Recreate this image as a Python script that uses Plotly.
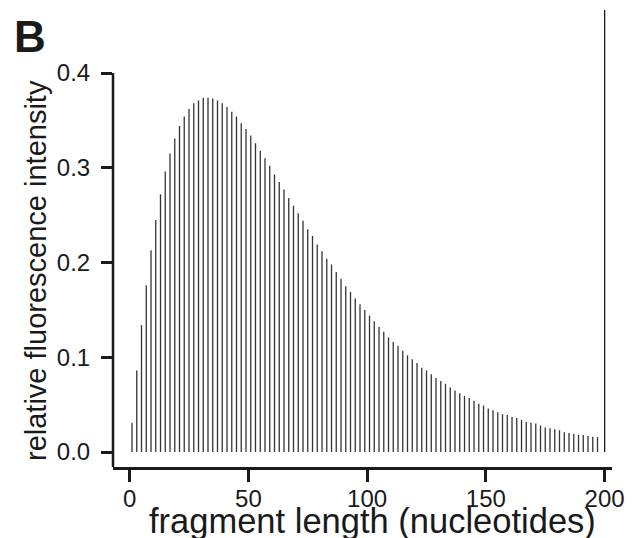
import plotly.graph_objects as go

# fragment lengths (nucleotides) and relative fluorescence intensity
lengths = list(range(1, 198, 2))
intensity = [
    0.031, 0.086, 0.134, 0.176, 0.213, 0.245, 0.272, 0.296, 0.315, 0.331,
    0.344, 0.354, 0.362, 0.368, 0.371, 0.374, 0.374, 0.373, 0.371, 0.368,
    0.364, 0.359, 0.354, 0.347, 0.341, 0.334, 0.326, 0.318, 0.310, 0.302,
    0.293, 0.285, 0.277, 0.268, 0.260, 0.252, 0.244, 0.235, 0.228, 0.219,
    0.212, 0.204, 0.198, 0.190, 0.183, 0.175, 0.169, 0.162, 0.156, 0.150,
    0.144, 0.138, 0.132, 0.127, 0.121, 0.116, 0.112, 0.107, 0.102, 0.098,
    0.094, 0.089, 0.086, 0.082, 0.078, 0.075, 0.072, 0.068, 0.065, 0.062,
    0.059, 0.057, 0.054, 0.051, 0.049, 0.046, 0.044, 0.042, 0.040, 0.039,
    0.037, 0.036, 0.034, 0.032, 0.031, 0.030, 0.028, 0.026, 0.025, 0.024,
    0.023, 0.021, 0.020, 0.019, 0.018, 0.018, 0.017, 0.016, 0.016,
]
# full-length product (off scale)
full_length = [200]
full_intensity = [0.50]

x_ticks = [0, 50, 100, 150, 200]
y_ticks = [0.0, 0.1, 0.2, 0.3, 0.4]
y_tick_text = ["0.0", "0.1", "0.2", "0.3", "0.4"]

x_range = [-7.0, 203.1]
y_range = [-0.0158, 0.4665]

ink = "#1a1a1a"
font_family = "Liberation Sans, Arial, Helvetica, sans-serif"

# page body adds an 8 px offset; compensate in the margins
L, T, R, B = 105, 2, 34, 79
PW, PH = 638 - L - R, 538 - T - B


def px_x(px):
    return (px - 8 - L) / PW


def px_y(py):
    return (538 - B - (py - 8)) / PH


def stems(xs, ys):
    sx, sy = [], []
    for a, b in zip(xs, ys):
        sx += [a, a, None]
        sy += [0, b, None]
    return sx, sy


fig = go.Figure()
sx, sy = stems(lengths, intensity)
fig.add_trace(go.Scatter(x=sx, y=sy, mode="lines",
                         line=dict(color="#333333", width=1.3),
                         hoverinfo="skip", showlegend=False))
fx, fy = stems(full_length, full_intensity)
fig.add_trace(go.Scatter(x=fx, y=fy, mode="lines",
                         line=dict(color=ink, width=1.3),
                         hoverinfo="skip", showlegend=False))

fig.update_layout(
    width=638, height=538,
    margin=dict(l=L, r=R, t=T, b=B),
    paper_bgcolor="white", plot_bgcolor="white",
    font=dict(family=font_family, color=ink, size=24),
    showlegend=False,
    xaxis=dict(range=x_range, tickvals=x_ticks, showline=True,
               linecolor=ink, linewidth=2.5, ticks="outside", ticklen=12,
               tickwidth=2.5, tickcolor=ink, showgrid=False, zeroline=False,
               tickfont=dict(size=24), ticklabelstandoff=-4,
               automargin=False),
    yaxis=dict(range=y_range, tickvals=y_ticks, ticktext=y_tick_text,
               showline=False, ticks="outside", ticklen=11, tickwidth=2.5,
               tickcolor=ink, showgrid=False, zeroline=False,
               tickfont=dict(size=24), ticklabelstandoff=6,
               automargin=False),
)

# y axis line from the bottom up to the top tick
fig.add_shape(type="line", xref="paper", yref="y", x0=0, x1=0,
              y0=y_range[0], y1=y_ticks[-1],
              line=dict(color=ink, width=2.5))

fig.add_annotation(text="relative fluorescence intensity", xref="paper",
                   yref="paper", x=px_x(36), y=px_y(271),
                   textangle=-90, showarrow=False, xanchor="center",
                   yanchor="middle", font=dict(size=29))
fig.add_annotation(text="fragment length (nucleotides)", xref="paper",
                   yref="paper", x=px_x(372.5), y=px_y(521),
                   showarrow=False, xanchor="center", yanchor="middle",
                   font=dict(size=34.5))
fig.add_annotation(text="<b>B</b>", xref="paper", yref="paper",
                   x=px_x(30), y=px_y(36), showarrow=False,
                   xanchor="center", yanchor="middle", font=dict(size=44))

fig.write_html("out.html")
